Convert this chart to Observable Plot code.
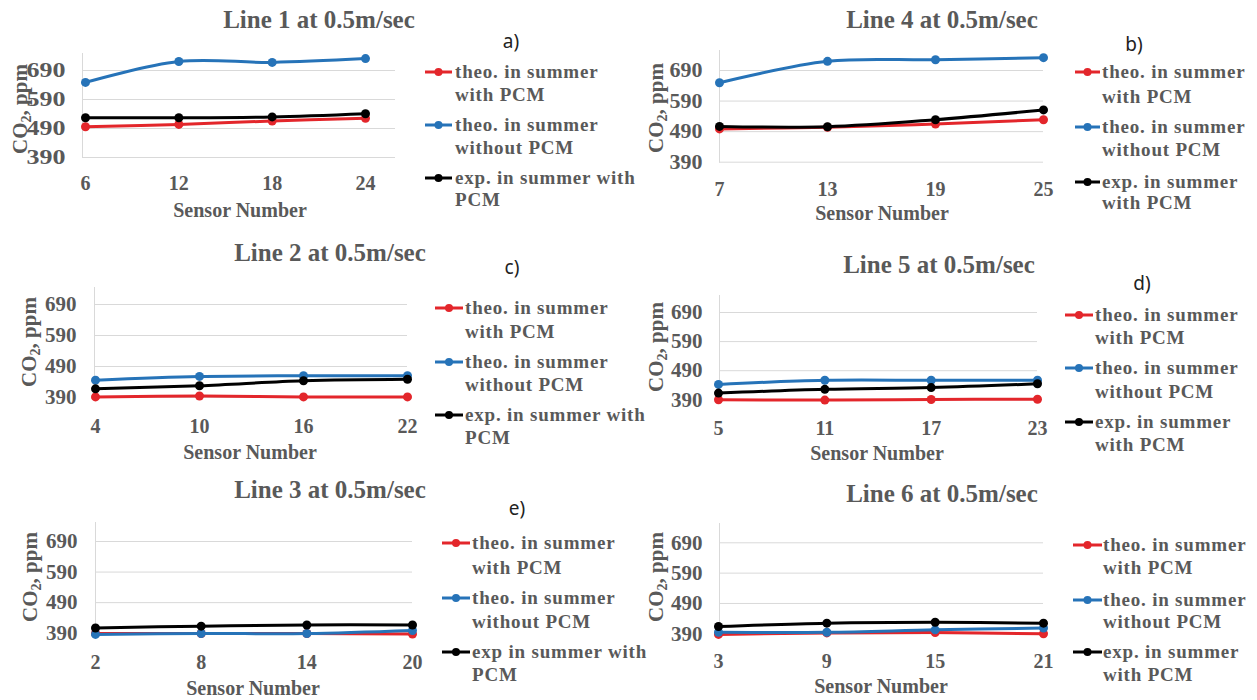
<!DOCTYPE html>
<html><head><meta charset="utf-8">
<script src="https://cdn.jsdelivr.net/npm/d3@7"></script>
<script src="https://cdn.jsdelivr.net/npm/@observablehq/plot@0.6"></script>
<style>
body{margin:0;background:#fff;}
#page{position:relative;width:1257px;height:700px;overflow:hidden;background:#fff;}
.cell{position:absolute;}
#overlay{position:absolute;left:0;top:0;pointer-events:none;}
</style></head><body><div id="page"></div>
<script>
// ---------- data ----------
const seriesNames = ["theo. in summer with PCM", "theo. in summer without PCM", "exp. in summer with PCM"];
const seriesColors = ["#e3262b", "#2673b8", "#000000"];
const yTicks = [390, 490, 590, 690];
const panelTitles = ["Line 1 at 0.5m/sec", "Line 4 at 0.5m/sec", "Line 2 at 0.5m/sec", "Line 5 at 0.5m/sec", "Line 3 at 0.5m/sec", "Line 6 at 0.5m/sec"];
const panelTags = ["a)", "b)", "c)", "d)", "e)", ""];
const xTitle = "Sensor Number";

const sensorsL1 = [6, 12, 18, 24];
const redL1 = [496, 504, 516, 525];
const blueL1 = [649, 721, 718, 731];
const blackL1 = [527, 527, 530, 541];

const sensorsL4 = [7, 13, 19, 25];
const redL4 = [499, 504, 515, 529];
const blueL4 = [650, 720, 725, 732];
const blackL4 = [507, 506, 529, 561];

const sensorsL2 = [4, 10, 16, 22];
const redL2 = [392, 395, 392, 392];
const blueL2 = [446, 458, 460, 460];
const blackL2 = [418, 428, 444, 449];

const sensorsL5 = [5, 11, 17, 23];
const redL5 = [390, 389, 391, 392];
const blueL5 = [443, 457, 457, 457];
const blackL5 = [413, 426, 432, 445];

const sensorsL3 = [2, 8, 14, 20];
const redL3 = [389, 389, 389, 387];
const blueL3 = [386, 389, 389, 399];
const blackL3 = [407, 413, 417, 417];

const sensorsL6 = [3, 9, 15, 21];
const redL6 = [388, 393, 394, 390];
const blueL6 = [395, 395, 403, 409];
const blackL6 = [414, 425, 428, 425];

const legendA = [["theo. in summer", "with PCM"], ["theo. in summer", "without PCM"], ["exp. in summer with", "PCM"]];
const legendB = [["theo. in summer", "with PCM"], ["theo. in summer", "without PCM"], ["exp. in summer", "with PCM"]];
const legendE = [["theo. in summer", "with PCM"], ["theo. in summer", "without PCM"], ["exp in summer with", "PCM"]];

const panels = [
  {sensors: sensorsL1, series: [redL1, blueL1, blackL1], legend: legendA},
  {sensors: sensorsL4, series: [redL4, blueL4, blackL4], legend: legendB},
  {sensors: sensorsL2, series: [redL2, blueL2, blackL2], legend: legendA},
  {sensors: sensorsL5, series: [redL5, blueL5, blackL5], legend: legendB},
  {sensors: sensorsL3, series: [redL3, blueL3, blackL3], legend: legendE},
  {sensors: sensorsL6, series: [redL6, blueL6, blackL6], legend: legendB}
];

// ---------- layout (pixels) ----------
const layout = [
  {cell:[0,0,420,230], frame:[82,395,53,157], px:[85,365], py:[157,70], xPad:18, yPad:17, yLen:39, title:[319,28], sn:[240,217], yl:[27,109], tag:[511,48], m0:425, m1:452, t:455, base:[78,101,131,154,184,206]},
  {cell:[640,0,420,230], frame:[719,1043,50,161.7], px:[719,1043], py:[161.7,70], xPad:20, yPad:17, yLen:33, title:[942,28], sn:[882,220], yl:[663,108], tag:[1134,51], m0:1075, m1:1100, t:1102, base:[78,103,133,156,188,209]},
  {cell:[0,230,420,240], frame:[94,407,287,397], px:[95,407], py:[397,304], xPad:21, yPad:18, yLen:0, title:[330,261], sn:[250,459], yl:[36,342], tag:[512,274], m0:435, m1:463, t:465, base:[314,338,368,391,421,444]},
  {cell:[640,240,420,230], frame:[719,1037,295,399.3], px:[718,1037], py:[399.3,312], xPad:21, yPad:17, yLen:0, title:[939,273], sn:[877,460], yl:[663,347], tag:[1142,290], m0:1065, m1:1093, t:1095, base:[321,344,374,398,428,451]},
  {cell:[0,470,420,230], frame:[95,412,522,632.7], px:[95,412], py:[632.7,541], xPad:22, yPad:18, yLen:0, title:[330,498], sn:[253,695], yl:[37,577], tag:[517,515], m0:442, m1:470, t:472, base:[549,574,604,628,658,681]},
  {cell:[640,470,420,230], frame:[719,1043,523,633.3], px:[718,1043], py:[633.3,542.3], xPad:20, yPad:17, yLen:0, title:[942,502], sn:[881,693], yl:[663,577], tag:null, m0:1073, m1:1102, t:1103, base:[551,574,606,628,658,681]}
];

const textColor = "#595959";
const serif = "'Liberation Serif', 'Times New Roman', serif";
const page = document.getElementById("page");

panels.forEach((p, k) => {
  const L = layout[k];
  const [cx, cy, cw, ch] = L.cell;
  const [fl, fr, ft, fb] = L.frame;
  const marks = [
    Plot.ruleY(yTicks, {stroke: "#d9d9d9", strokeWidth: 1}),
    Plot.frame({anchor: "left", stroke: "#d9d9d9", strokeWidth: 1}),
    Plot.axisX({ticks: p.sensors, tickSize: 0, tickPadding: L.xPad, tickFormat: d => String(d), label: null,
      fontSize: 20, fontWeight: "bold", fontFamily: serif, fill: textColor}),
    Plot.axisY({ticks: yTicks, tickSize: 0, tickPadding: L.yPad, tickFormat: d => String(d), label: null,
      fontSize: 21, fontWeight: "bold", fontFamily: serif, fill: textColor})
  ];
  p.series.forEach((vals, s) => {
    const data = p.sensors.map((x, i) => ({sensor: x, value: vals[i]}));
    marks.push(Plot.line(data, {x: "sensor", y: "value", stroke: seriesColors[s], strokeWidth: 3, curve: "catmull-rom"}));
    marks.push(Plot.dot(data, {x: "sensor", y: "value", fill: seriesColors[s], r: 4.5}));
  });
  const svg = Plot.plot({
    width: cw, height: ch,
    marginLeft: fl - cx, marginRight: cx + cw - fr, marginTop: ft - cy, marginBottom: cy + ch - fb,
    x: {type: "linear", domain: [p.sensors[0], p.sensors[p.sensors.length - 1]], range: [L.px[0] - cx, L.px[1] - cx]},
    y: {type: "linear", domain: [390, 690], range: [L.py[0] - cy, L.py[1] - cy]},
    style: {background: "transparent", overflow: "visible", color: textColor},
    marks
  });
  if (L.yLen) d3.select(svg).selectAll('[aria-label="y-axis tick label"] text')
    .attr("textLength", L.yLen).attr("lengthAdjust", "spacingAndGlyphs");
  const div = document.createElement("div");
  div.className = "cell";
  div.style.left = cx + "px"; div.style.top = cy + "px";
  div.appendChild(svg);
  page.appendChild(div);
});

// ---------- text overlay: titles, axis titles, legends ----------
const ov = d3.select(page).append("svg").attr("id", "overlay").attr("width", 1257).attr("height", 700);
panels.forEach((p, k) => {
  const L = layout[k];
  ov.append("text").attr("x", L.title[0]).attr("y", L.title[1]).attr("text-anchor", "middle")
    .attr("font-family", serif).attr("font-weight", "bold").attr("font-size", 25).attr("fill", textColor)
    .text(panelTitles[k]);
  ov.append("text").attr("x", L.sn[0]).attr("y", L.sn[1]).attr("text-anchor", "middle")
    .attr("font-family", serif).attr("font-weight", "bold").attr("font-size", 20).attr("fill", textColor)
    .text(xTitle);
  const yl = ov.append("text").attr("transform", `translate(${L.yl[0]},${L.yl[1]}) rotate(-90)`).attr("text-anchor", "middle")
    .attr("font-family", serif).attr("font-weight", "bold").attr("font-size", 21).attr("fill", textColor);
  yl.append("tspan").text("CO");
  yl.append("tspan").attr("font-size", 14).attr("dy", 4).text("2");
  yl.append("tspan").attr("dy", -4).text(", ppm");
  if (L.tag && panelTags[k]) {
    ov.append("text").attr("x", L.tag[0]).attr("y", L.tag[1]).attr("text-anchor", "middle")
      .attr("font-family", "'Noto Sans', 'Open Sans', sans-serif").attr("font-size", 19).attr("fill", "#222")
      .text(panelTags[k]);
  }
  p.legend.forEach((lines, s) => {
    const b1 = L.base[s * 2], b2 = L.base[s * 2 + 1];
    const my = b1 - 6;
    ov.append("line").attr("x1", L.m0).attr("x2", L.m1).attr("y1", my).attr("y2", my)
      .attr("stroke", seriesColors[s]).attr("stroke-width", 3);
    ov.append("circle").attr("cx", (L.m0 + L.m1) / 2).attr("cy", my).attr("r", 4).attr("fill", seriesColors[s]);
    [b1, b2].forEach((b, j) => {
      ov.append("text").attr("x", L.t).attr("y", b)
        .attr("font-family", serif).attr("font-weight", "bold").attr("font-size", 19).attr("letter-spacing", 0.8)
        .attr("fill", textColor).text(lines[j]);
    });
  });
});
</script></body></html>
